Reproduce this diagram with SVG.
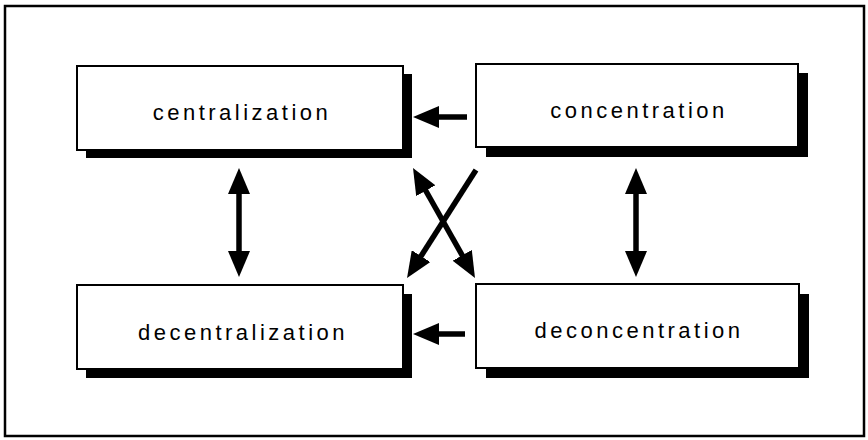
<svg xmlns="http://www.w3.org/2000/svg" width="868" height="440" viewBox="0 0 868 440">
<style>
.frame{fill:#fff;stroke:#000;stroke-width:2.5}
.shadow{fill:#000}
.box{fill:#fff;stroke:#000;stroke-width:2}
.lbl{font-family:"Liberation Sans",Arial,sans-serif;font-size:22px;letter-spacing:3.5px;fill:#000;text-anchor:middle}
.arr{stroke:#000;stroke-width:5.5;fill:none}
</style>
<defs>
<marker id="head" markerUnits="userSpaceOnUse" markerWidth="26" markerHeight="22" viewBox="0 0 26 22" refX="14" refY="11" orient="auto-start-reverse">
<path d="M0,0 L26,11 L0,22 Z" fill="#000"/>
</marker>
</defs>
<rect class="frame" x="5" y="6" width="859" height="430"/>
<g id="centralization">
<rect class="shadow" x="86" y="74" width="326" height="84"/>
<rect class="box" x="77" y="66" width="326" height="84"/>
<text class="lbl" x="242" y="120">centralization</text>
</g>
<g id="concentration">
<rect class="shadow" x="486" y="73" width="322" height="84"/>
<rect class="box" x="476" y="64" width="322" height="83"/>
<text class="lbl" x="639" y="118">concentration</text>
</g>
<g id="decentralization">
<rect class="shadow" x="86" y="294" width="326" height="84"/>
<rect class="box" x="77" y="285" width="326" height="84"/>
<text class="lbl" x="243" y="340">decentralization</text>
</g>
<g id="deconcentration">
<rect class="shadow" x="486" y="294" width="323" height="84"/>
<rect class="box" x="476" y="284" width="323" height="84"/>
<text class="lbl" x="639" y="338">deconcentration</text>
</g>
<g id="connectors">
<line class="arr" x1="239" y1="180" x2="239" y2="265" marker-start="url(#head)" marker-end="url(#head)"/>
<line class="arr" x1="636" y1="180" x2="636" y2="265" marker-start="url(#head)" marker-end="url(#head)"/>
<line class="arr" x1="467" y1="117" x2="425" y2="117" marker-end="url(#head)"/>
<line class="arr" x1="465" y1="334" x2="425" y2="334" marker-end="url(#head)"/>
<line class="arr" x1="418.9" y1="178.5" x2="469.1" y2="267.5" marker-start="url(#head)" marker-end="url(#head)"/>
<line class="arr" x1="476" y1="170" x2="413.5" y2="267.9" marker-end="url(#head)"/>
</g>
</svg>
